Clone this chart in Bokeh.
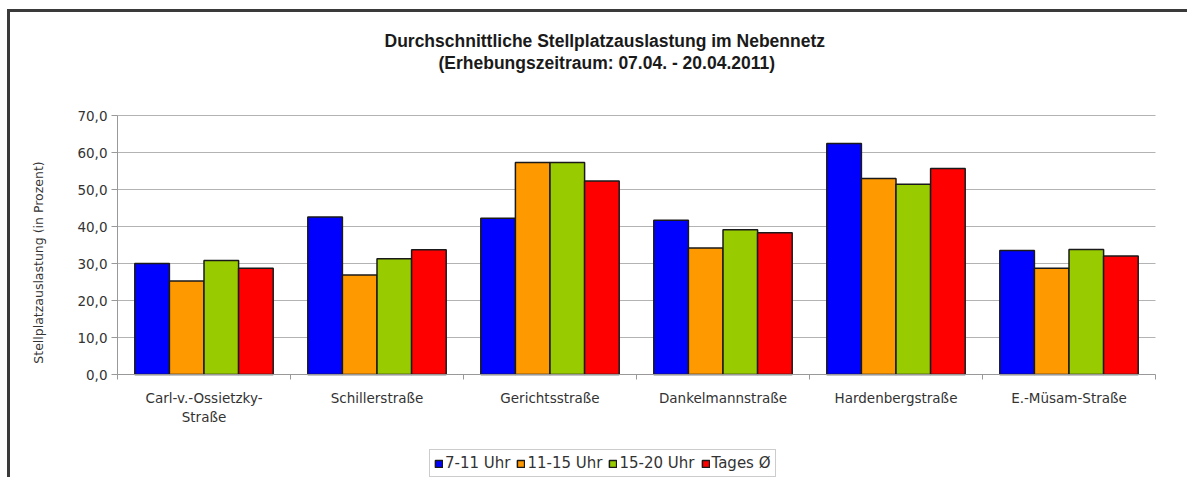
from bokeh.plotting import figure
from bokeh.models import (ColumnDataSource, Range1d, FixedTicker, Legend, LegendItem, Title)
from bokeh.embed import file_html
from bokeh.resources import INLINE

categories = ["Carl-v.-Ossietzky-\nStraße", "Schillerstraße", "Gerichtsstraße",
              "Dankelmannstraße", "Hardenbergstraße", "E.-Müsam-Straße"]
series_names = ["7-11 Uhr", "11-15 Uhr", "15-20 Uhr", "Tages Ø"]
v_7_11 = [30.0, 42.6, 42.2, 41.7, 62.4, 33.5]
v_11_15 = [25.3, 26.9, 57.3, 34.2, 53.0, 28.7]
v_15_20 = [30.8, 31.3, 57.3, 39.1, 51.4, 33.8]
v_tages = [28.7, 33.7, 52.3, 38.3, 55.7, 32.0]
series_values = [v_7_11, v_11_15, v_15_20, v_tages]
colors = ["#0000FF", "#FF9900", "#99CC00", "#FF0000"]
yticks = [0, 10, 20, 30, 40, 50, 60, 70]
ytick_labels = ["0,0", "10,0", "20,0", "30,0", "40,0", "50,0", "60,0", "70,0"]
title_line1 = "Durchschnittliche Stellplatzauslastung im Nebennetz"
title_line2 = "(Erhebungszeitraum: 07.04. - 20.04.2011)"
y_axis_title = "Stellplatzauslastung (in Prozent)"

TFONT = "Liberation Sans"
FONT = "DejaVu Sans"
TXT = "#333333"
AXIS_COLOR = "#999999"

# ---- layout (pixels) ----
W, H = 1180, 468
TOP = 60                       # space for the two title lines
ORIGIN_X, ORIGIN_Y = 11, 13     # where the figure content starts in the window
AX_LEFT, AX_RIGHT = 118, 1156   # plot area in window pixels
AX_TOP, AX_BOTTOM = 116, 375
YLABEL_CENTER = 263             # vertical centre of the y axis title
ncat = len(categories)
ymax = yticks[-1]
px_per_cat = (AX_RIGHT - AX_LEFT) / ncat
px_per_unit = (AX_BOTTOM - AX_TOP) / ymax
frame_left = ORIGIN_X
frame_right = ORIGIN_X + W
frame_top = ORIGIN_Y + TOP
frame_bottom = ORIGIN_Y + H
x_start = -(AX_LEFT - frame_left) / px_per_cat
x_end = ncat + (frame_right - AX_RIGHT) / px_per_cat
y_end = ymax + (AX_TOP - frame_top) / px_per_unit
y_start = -(frame_bottom - AX_BOTTOM) / px_per_unit
label_mid = (AX_BOTTOM - YLABEL_CENTER) / px_per_unit
y_bound_low = 2 * label_mid - ymax

p = figure(width=W, height=H, output_backend="svg", toolbar_location=None,
           x_range=Range1d(x_start, x_end), y_range=Range1d(y_start, y_end),
           min_border_left=0, min_border_right=0, min_border_top=TOP, min_border_bottom=0)
p.styles = {"border-top": "3px solid #3a3a3a", "border-left": "3px solid #3a3a3a",
            "margin-left": "7px", "margin-top": "9px"}
p.outline_line_color = None
p.background_fill_color = "white"
p.border_fill_color = "white"

# horizontal grid lines (only across the plot area)
gl = yticks[1:]
p.segment(x0=[0] * len(gl), x1=[ncat] * len(gl), y0=gl, y1=gl,
          line_color="#b3b3b3", line_width=1)
# y axis line from 0 to the top tick
p.segment(x0=[0], x1=[0], y0=[yticks[0]], y1=[ymax], line_color=AXIS_COLOR, line_width=1)

n = len(series_names)
bw = 0.8 / n
renderers = []
for i, (name, vals, col) in enumerate(zip(series_names, series_values, colors)):
    xs = [j + 0.1 + bw * (i + 0.5) for j in range(ncat)]
    src = ColumnDataSource(dict(x=xs, top=vals))
    r = p.vbar(x="x", top="top", width=bw, bottom=0, source=src,
               fill_color=col, line_color="#1a1a1a", line_width=1.5)
    renderers.append(r)

p.xgrid.visible = False
p.ygrid.visible = False

# x axis placed at y = 0 inside the frame
xa = p.xaxis[0]
xa.fixed_location = 0
xa.bounds = (0, ncat)
centers = [j + 0.5 for j in range(ncat)]
xa.ticker = FixedTicker(ticks=centers, minor_ticks=list(range(ncat + 1)))
xa.major_label_overrides = {c: lab for c, lab in zip(centers, categories)}
xa.major_tick_line_color = None
xa.major_tick_out = 5
xa.major_tick_in = 0
xa.minor_tick_line_color = AXIS_COLOR
xa.minor_tick_out = 5
xa.minor_tick_in = 0
xa.axis_line_color = AXIS_COLOR
xa.major_label_text_font = FONT
xa.major_label_text_font_size = "13.5px"
xa.major_label_text_color = TXT
xa.major_label_standoff = 10

# y axis placed at x = 0 inside the frame (line drawn above as a segment)
ya = p.yaxis[0]
ya.fixed_location = 0
ya.bounds = (y_bound_low, ymax)
ya.ticker = FixedTicker(ticks=yticks)
ya.major_label_overrides = {t: l for t, l in zip(yticks, ytick_labels)}
ya.axis_line_color = None
ya.major_tick_line_color = AXIS_COLOR
ya.major_tick_out = 6
ya.major_tick_in = 0
ya.minor_tick_line_color = None
ya.major_label_text_font = FONT
ya.major_label_text_font_size = "13.5px"
ya.major_label_text_color = TXT
ya.major_label_standoff = 4
ya.axis_label = y_axis_title
ya.axis_label_text_font = FONT
ya.axis_label_text_font_size = "12.5px"
ya.axis_label_text_font_style = "normal"
ya.axis_label_text_color = TXT
ya.axis_label_standoff = 28

# title: line 1 is the default (outer) title, line 2 sits next to the frame
p.title.text = title_line1
p.title.align = "left"
p.title.offset = 385 - frame_left
p.title.text_font = TFONT
p.title.text_font_size = "17.5px"
p.title.text_font_style = "bold"
p.title.text_color = "#1a1a1a"
p.title.standoff = 0
t2 = Title(text=title_line2, align="left", offset=439 - frame_left, text_font=TFONT,
           text_font_size="17.5px", text_font_style="bold", text_color="#1a1a1a", standoff=0)
p.add_layout(t2, "above")

legend = Legend(items=[LegendItem(label=nm, renderers=[r]) for nm, r in zip(series_names, renderers)],
                orientation="horizontal", location=(430 - frame_left, 3))
legend.label_text_font = FONT
legend.label_text_font_size = "15px"
legend.label_text_color = TXT
legend.glyph_width = 9
legend.glyph_height = 9
legend.label_standoff = 2
legend.spacing = 6
legend.padding = 4
legend.margin = 0
legend.border_line_color = AXIS_COLOR
legend.border_line_width = 1
legend.label_height = 13
p.add_layout(legend)

open("out.html", "w").write(file_html(p, INLINE))
